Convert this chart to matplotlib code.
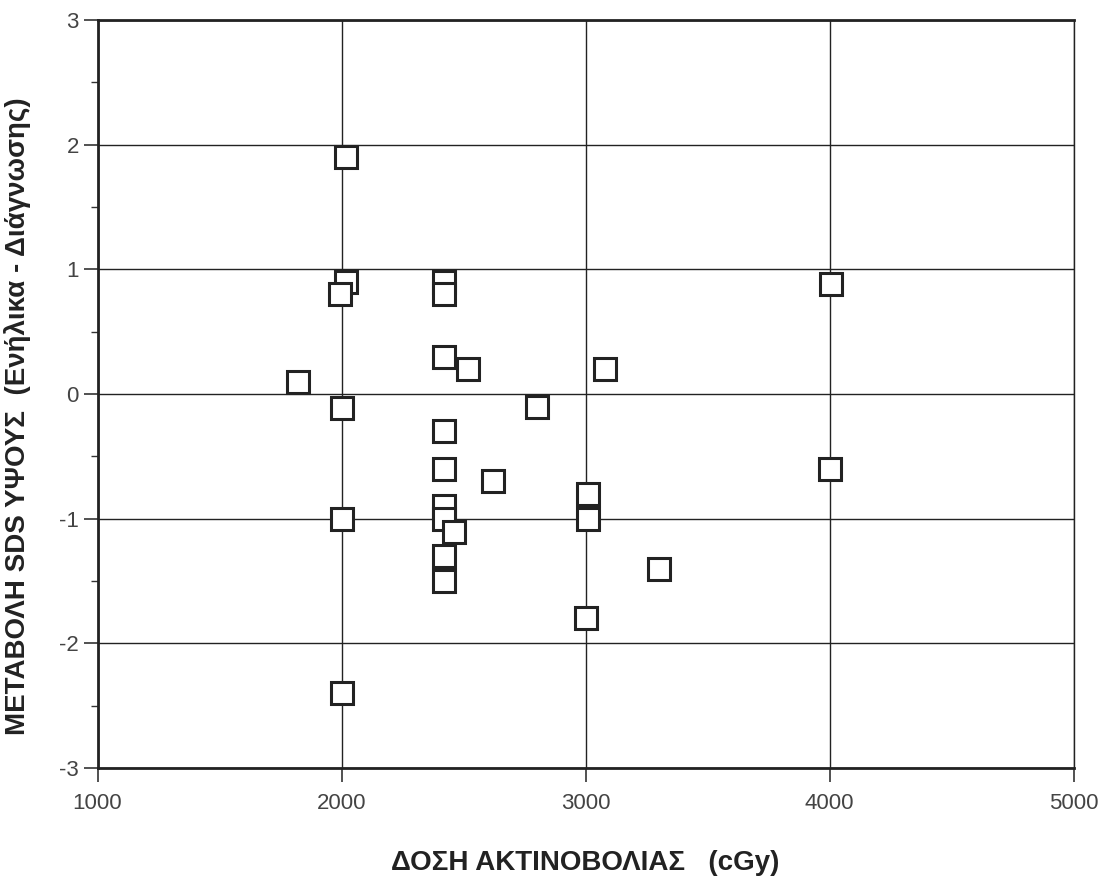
import matplotlib
matplotlib.use("Agg")
import matplotlib.pyplot as plt
from matplotlib.ticker import MultipleLocator

plt.rcParams['axes.unicode_minus'] = False
plt.rcParams['font.family'] = ['Liberation Sans Narrow', 'Liberation Sans', 'DejaVu Sans']

# radiation dose (cGy) vs change in height SDS
dose = [1820, 2020, 2020, 1995, 2000, 2000, 2000,
        2420, 2420, 2420, 2520, 2420, 2420, 2620, 2420, 2420, 2460, 2420, 2420,
        2800, 3080, 3010, 3010, 3000, 3300, 4005, 4000]
sds = [0.10, 1.90, 0.90, 0.80, -0.11, -1.00, -2.40,
       0.90, 0.80, 0.30, 0.20, -0.30, -0.60, -0.70, -0.90, -1.00, -1.11, -1.30, -1.50,
       -0.10, 0.20, -0.80, -1.00, -1.80, -1.40, 0.88, -0.60]

xticks = [1000, 2000, 3000, 4000, 5000]
yticks = [-3, -2, -1, 0, 1, 2, 3]

fig = plt.figure(figsize=(11.08, 8.9), dpi=100)
ax = fig.add_axes([0.088, 0.137, 0.881, 0.8405])

ax.plot(dose, sds, linestyle="none", marker="s", markersize=16,
        markerfacecolor="white", markeredgecolor="#222222", markeredgewidth=2.2,
        zorder=3)

ax.set_xlim(1000, 5000)
ax.set_ylim(-3, 3)
ax.set_xticks(xticks)
ax.set_yticks(yticks)
ax.yaxis.set_minor_locator(MultipleLocator(0.5))
ax.grid(True, which="major", color="#222222", linewidth=1.0)

for side in ["left", "bottom", "top"]:
    ax.spines[side].set_linewidth(2.0)
    ax.spines[side].set_color("#222222")
ax.spines["right"].set_linewidth(1.0)
ax.spines["right"].set_color("#222222")

ax.tick_params(axis="both", which="major", direction="out", length=10, width=1.2,
               color="#333333", labelsize=16, labelcolor="#444444")
ax.tick_params(axis="x", which="major", pad=8)
ax.tick_params(axis="y", which="minor", direction="out", length=5, width=1.0, color="#333333")

ax.set_xlabel("ΔΟΣΗ ΑΚΤΙΝΟΒΟΛΙΑΣ   (cGy)", fontsize=20, fontweight="bold",
              color="#222222", labelpad=26)
ax.set_ylabel("ΜΕΤΑΒΟΛΗ SDS ΥΨΟΥΣ  (Ενήλικα - Διάγνωσης)", fontsize=20,
              fontweight="bold", color="#222222")
ax.yaxis.set_label_coords(-0.068, 0.47)

fig.savefig("out.png", dpi=100)
